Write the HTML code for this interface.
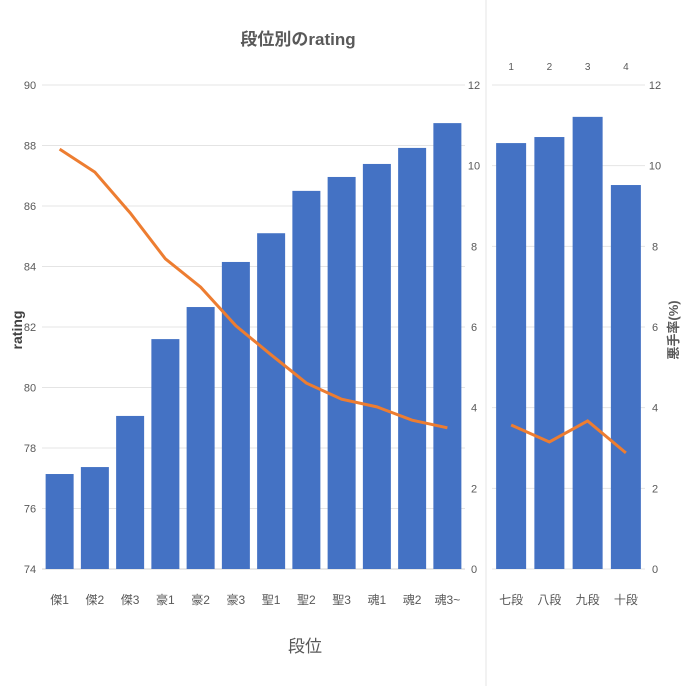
<!DOCTYPE html>
<html><head><meta charset="utf-8"><style>
body{margin:0;background:#fff}
text{font-family:"Liberation Sans","Noto Sans CJK JP",sans-serif}
</style></head><body>
<svg id="c" width="686" height="686" xmlns="http://www.w3.org/2000/svg">
<line x1="486" y1="0" x2="486" y2="686" stroke="#e6e6e6"/>
<text x="298" y="45" text-anchor="middle" font-size="17" font-weight="bold" fill="#595959">段位別のrating</text>
<text transform="translate(22,330) rotate(-90)" text-anchor="middle" font-size="14" font-weight="bold" fill="#404040">rating</text>
<text x="305" y="652" text-anchor="middle" font-size="17" fill="#595959">段位</text>
<text transform="translate(678,330) rotate(-90)" text-anchor="middle" font-size="13" font-weight="bold" fill="#595959">悪手率(%)</text>
<g id="g"></g>
</svg>
<script>
const cats=["傑1","傑2","傑3","豪1","豪2","豪3","聖1","聖2","聖3","魂1","魂2","魂3~"];
const ratings=[77.14,77.37,79.06,81.6,82.66,84.15,85.1,86.5,86.96,87.39,87.92,88.74];
const badRate=[10.41,9.84,8.83,7.69,6.99,6.03,5.31,4.61,4.21,4.02,3.69,3.5];
const leftTicks=[74,76,78,80,82,84,86,88,90];
const rightTicks=[0,2,4,6,8,10,12];
const cats2=["七段","八段","九段","十段"];
const topLabels2=["1","2","3","4"];
const bars2=[10.56,10.71,11.21,9.52];
const line2=[3.57,3.15,3.67,2.88];
const NS="http://www.w3.org/2000/svg",g=document.getElementById('g');
const T=85,B=569;
const yL=v=>B-(v-74)/16*(B-T), yR=v=>B-v/12*(B-T);
function mk(t,a){const e=document.createElementNS(NS,t);for(const k in a)e.setAttribute(k,a[k]);g.appendChild(e);return e;}
// left grid
const x0=42,x1=465,bw=(x1-x0)/cats.length;
leftTicks.forEach(v=>{const l=mk('line',{x1:x0,x2:x1,y1:yL(v),y2:yL(v),stroke:v===74?'#d0d0d0':'#e4e4e4'});


const t=mk('text',{x:30,y:yL(v)+4,'text-anchor':'middle','font-size':11,fill:'#595959'});t.textContent=v;

});
rightTicks.forEach(v=>{const t=mk('text',{x:474,y:yR(v)+4,'text-anchor':'middle','font-size':11,fill:'#595959'});t.textContent=v;


const t2=mk('text',{x:655,y:yR(v)+4,'text-anchor':'middle','font-size':11,fill:'#595959'});t2.textContent=v;

});
cats.forEach((c,i)=>{const cx=x0+bw*(i+.5);
const r=mk('rect',{x:cx-14,y:yL(ratings[i]),width:28,height:B-yL(ratings[i]),fill:'#4472c4'});


const t=mk('text',{x:cx,y:604,'text-anchor':'middle','font-size':12,fill:'#595959'});t.textContent=c;

});
let p=mk('polyline',{points:badRate.map((v,i)=>(x0+bw*(i+.5))+','+yR(v)).join(' '),fill:'none',stroke:'#ed7d31','stroke-width':3});


// right panel
const r0=492,r1=645,rw=(r1-r0)/cats2.length;
rightTicks.forEach(v=>{const l=mk('line',{x1:r0,x2:r1,y1:yR(v),y2:yR(v),stroke:'#e4e4e4'});

});
cats2.forEach((c,i)=>{const cx=r0+rw*(i+.5);
const r=mk('rect',{x:cx-15,y:yR(bars2[i]),width:30,height:B-yR(bars2[i]),fill:'#4472c4'});


const t=mk('text',{x:cx,y:604,'text-anchor':'middle','font-size':12,fill:'#595959'});t.textContent=c;


const t2=mk('text',{x:cx,y:70,'text-anchor':'middle','font-size':10,fill:'#595959'});t2.textContent=topLabels2[i];

});
p=mk('polyline',{points:line2.map((v,i)=>(r0+rw*(i+.5))+','+yR(v)).join(' '),fill:'none',stroke:'#ed7d31','stroke-width':3});


</script>
</body></html>
